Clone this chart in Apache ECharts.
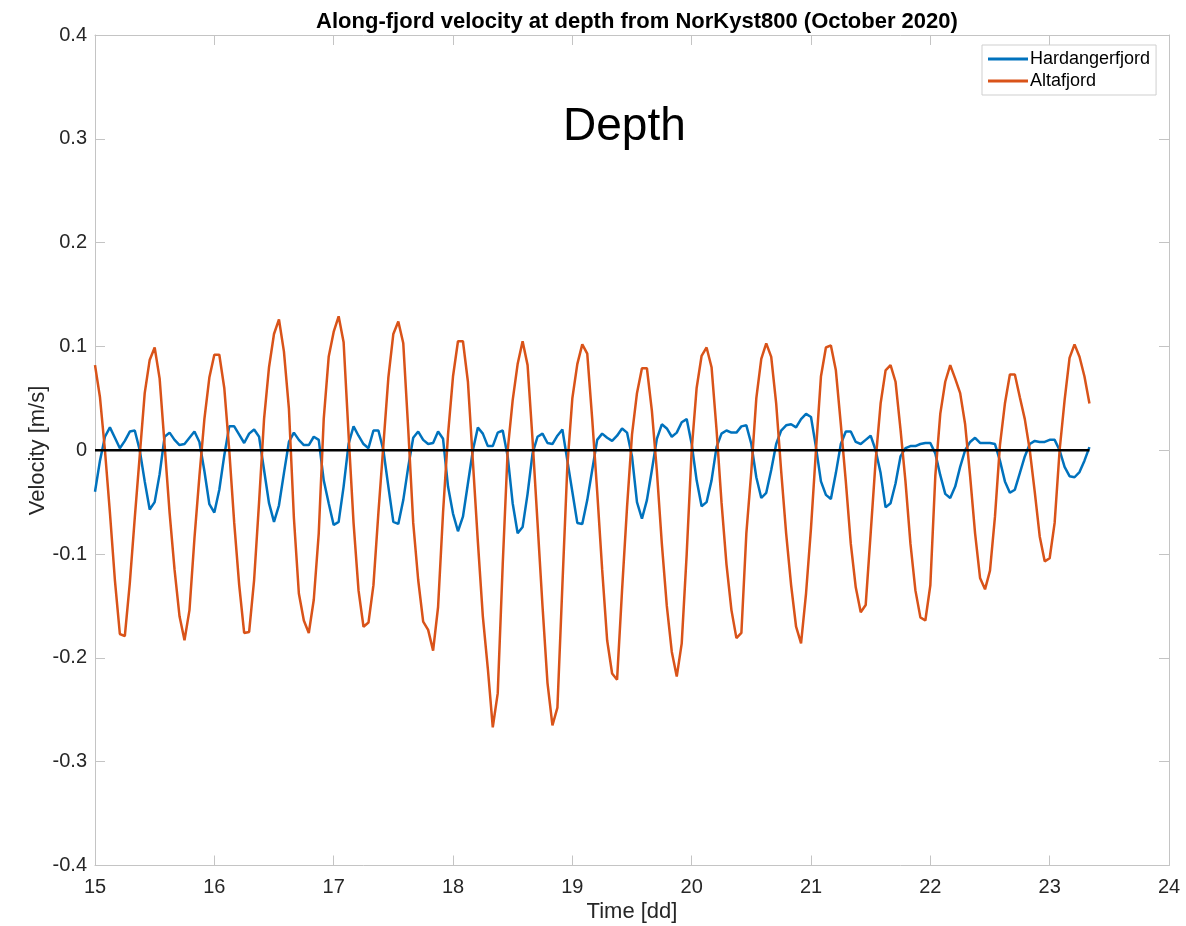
<!DOCTYPE html>
<html>
<head>
<meta charset="utf-8">
<title>Along-fjord velocity at depth</title>
<script src="https://cdn.jsdelivr.net/npm/echarts@6/dist/echarts.min.js"></script>
<style>
  html, body { margin: 0; padding: 0; background: #ffffff; overflow: hidden; }
  #chart { width: 1186px; height: 926px; }
</style>
</head>
<body>
<div id="chart"></div>
<script>
// Hourly model output, 15 October 2020 00:00 onwards (time in days of month)
const startDay = 15;
const stepHours = 1;

// Along-fjord velocity [m/s], Hardangerfjord
const hardangerfjord = [
  -0.040, -0.010, 0.013, 0.022, 0.012, 0.002, 0.009, 0.018, 0.019, 0.000,
  -0.030, -0.057, -0.050, -0.023, 0.013, 0.017, 0.010, 0.005, 0.006, 0.012,
  0.018, 0.008, -0.020, -0.052, -0.060, -0.038, -0.005, 0.023, 0.023, 0.015,
  0.007, 0.016, 0.020, 0.013, -0.019, -0.051, -0.069, -0.053, -0.022, 0.008,
  0.017, 0.010, 0.005, 0.005, 0.013, 0.010, -0.029, -0.051, -0.072, -0.069,
  -0.035, 0.006, 0.023, 0.014, 0.006, 0.002, 0.019, 0.019, 0.000, -0.035,
  -0.069, -0.071, -0.048, -0.016, 0.012, 0.018, 0.010, 0.006, 0.007, 0.018,
  0.011, -0.035, -0.061, -0.078, -0.064, -0.032, 0.000, 0.022, 0.016, 0.004,
  0.004, 0.017, 0.019, -0.006, -0.051, -0.080, -0.074, -0.042, -0.003, 0.013,
  0.016, 0.007, 0.006, 0.014, 0.020, -0.010, -0.040, -0.070, -0.071, -0.048,
  -0.019, 0.010, 0.016, 0.012, 0.009, 0.014, 0.021, 0.017, -0.006, -0.050,
  -0.066, -0.048, -0.019, 0.011, 0.025, 0.021, 0.013, 0.017, 0.027, 0.030,
  0.006, -0.029, -0.054, -0.050, -0.029, 0.003, 0.016, 0.019, 0.017, 0.017,
  0.023, 0.024, 0.006, -0.026, -0.046, -0.041, -0.019, 0.006, 0.019, 0.024,
  0.025, 0.022, 0.030, 0.035, 0.032, 0.003, -0.030, -0.043, -0.047, -0.022,
  0.006, 0.018, 0.018, 0.008, 0.006, 0.010, 0.014, 0.000, -0.022, -0.055,
  -0.051, -0.032, -0.006, 0.002, 0.004, 0.004, 0.006, 0.007, 0.007, -0.003,
  -0.024, -0.042, -0.046, -0.035, -0.016, 0.000, 0.008, 0.012, 0.007, 0.007,
  0.007, 0.006, -0.010, -0.030, -0.041, -0.038, -0.022, -0.006, 0.006, 0.009,
  0.008, 0.008, 0.010, 0.010, 0.000, -0.016, -0.025, -0.026, -0.021, -0.010,
  0.003
];

// Along-fjord velocity [m/s], Altafjord
const altafjord = [
  0.082, 0.051, 0.000, -0.060, -0.125, -0.177, -0.179, -0.128, -0.065, -0.005,
  0.055, 0.087, 0.099, 0.069, 0.005, -0.060, -0.115, -0.160, -0.183, -0.154,
  -0.085, -0.025, 0.030, 0.070, 0.092, 0.092, 0.060, 0.000, -0.070, -0.130,
  -0.176, -0.175, -0.125, -0.050, 0.030, 0.080, 0.112, 0.126, 0.095, 0.040,
  -0.065, -0.138, -0.164, -0.176, -0.144, -0.080, 0.030, 0.090, 0.114, 0.129,
  0.104, 0.015, -0.070, -0.135, -0.170, -0.166, -0.130, -0.060, 0.005, 0.070,
  0.112, 0.124, 0.103, 0.020, -0.070, -0.125, -0.165, -0.173, -0.193, -0.151,
  -0.060, 0.015, 0.071, 0.105, 0.105, 0.066, -0.011, -0.088, -0.160, -0.210,
  -0.267, -0.234, -0.110, 0.000, 0.048, 0.083, 0.105, 0.082, 0.010, -0.070,
  -0.150, -0.224, -0.265, -0.248, -0.130, -0.015, 0.050, 0.083, 0.102, 0.093,
  0.030, -0.040, -0.115, -0.183, -0.215, -0.221, -0.135, -0.055, 0.015, 0.055,
  0.079, 0.079, 0.038, -0.020, -0.090, -0.150, -0.194, -0.218, -0.186, -0.100,
  0.000, 0.060, 0.091, 0.099, 0.080, 0.020, -0.050, -0.110, -0.154, -0.181,
  -0.176, -0.080, -0.020, 0.050, 0.088, 0.103, 0.090, 0.045, -0.020, -0.080,
  -0.130, -0.170, -0.186, -0.138, -0.075, 0.000, 0.071, 0.099, 0.101, 0.077,
  0.025, -0.030, -0.090, -0.132, -0.156, -0.149, -0.080, -0.010, 0.045, 0.077,
  0.082, 0.066, 0.020, -0.030, -0.090, -0.135, -0.161, -0.164, -0.130, -0.025,
  0.035, 0.066, 0.082, 0.069, 0.055, 0.025, -0.025, -0.080, -0.123, -0.134,
  -0.116, -0.064, 0.005, 0.045, 0.073, 0.073, 0.051, 0.030, 0.000, -0.040,
  -0.083, -0.107, -0.104, -0.070, 0.000, 0.048, 0.089, 0.102, 0.090, 0.071,
  0.045
];

// Axis ticks
const timeTicks = [15, 16, 17, 18, 19, 20, 21, 22, 23, 24];
const velocityTicks = [-0.4, -0.3, -0.2, -0.1, 0, 0.1, 0.2, 0.3, 0.4];

const seriesNames = ['Hardangerfjord', 'Altafjord'];
const titleText = 'Along-fjord velocity at depth from NorKyst800 (October 2020)';
const xAxisTitle = 'Time [dd]';
const yAxisTitle = 'Velocity [m/s]';
const annotationText = 'Depth';

const times = hardangerfjord.map((_, i) => startDay + (i * stepHours) / 24);
const toPairs = (vals) => vals.map((v, i) => [times[i], v]);
const zeroLine = [[times[0], 0], [times[times.length - 1], 0]];

const FONT = '"Liberation Sans", Arial, Helvetica, sans-serif';
const AXIS_GREY = '#c4c4c4';
const TEXT = '#262626';

const tMin = timeTicks[0], tMax = timeTicks[timeTicks.length - 1];
const vMin = velocityTicks[0], vMax = velocityTicks[velocityTicks.length - 1];

// Box-style axis: light frame line with short inward ticks
function frameAxis(extra) {
  return Object.assign({
    type: 'value',
    axisLine: { show: true, onZero: false, lineStyle: { color: AXIS_GREY, width: 1 } },
    axisTick: { show: true, inside: true, length: 10, lineStyle: { color: AXIS_GREY, width: 1 } },
    splitLine: { show: false }
  }, extra);
}

const chart = echarts.init(document.getElementById('chart'), null, { renderer: 'canvas' });

chart.setOption({
  animation: false,
  backgroundColor: '#ffffff',
  textStyle: { fontFamily: FONT },
  title: {
    text: titleText,
    left: 632,
    top: 6,
    textAlign: 'center',
    textStyle: { fontFamily: FONT, fontSize: 22, fontWeight: 'bold', color: '#000000' }
  },
  grid: { left: 95, width: 1074, top: 35, height: 830.5, containLabel: false },
  legend: {
    data: seriesNames,
    orient: 'vertical',
    left: 982,
    top: 45,
    padding: [5, 6, 5, 6],
    itemGap: 4,
    itemWidth: 40,
    itemHeight: 3,
    icon: 'rect',
    backgroundColor: '#ffffff',
    borderColor: '#cfcfcf',
    borderWidth: 1,
    borderRadius: 0,
    textStyle: { fontFamily: FONT, fontSize: 18, color: '#000000', padding: [0, 0, 0, -3] }
  },
  xAxis: [
    frameAxis({
      position: 'bottom', min: tMin, max: tMax, interval: 1,
      axisLabel: { color: TEXT, fontSize: 20, margin: 12, fontFamily: FONT }
    }),
    frameAxis({ position: 'top', min: tMin, max: tMax, interval: 1, axisLabel: { show: false } })
  ],
  yAxis: [
    frameAxis({
      position: 'left', min: vMin, max: vMax, interval: 0.1,
      axisLabel: {
        color: TEXT, fontSize: 20, margin: 8, fontFamily: FONT,
        formatter: (v) => String(Math.round(v * 10) / 10)
      }
    }),
    frameAxis({ position: 'right', min: vMin, max: vMax, interval: 0.1, axisLabel: { show: false } })
  ],
  graphic: [
    {
      type: 'text',
      left: 563,
      top: 104,
      style: { text: annotationText, fontFamily: FONT, fontSize: 46, fill: '#000000' }
    },
    {
      // axis titles
      type: 'text',
      x: 632, y: 912,
      style: {
        text: xAxisTitle, fontFamily: FONT, fontSize: 22, fill: TEXT,
        align: 'center', verticalAlign: 'middle'
      }
    },
    {
      type: 'text',
      x: 37.5, y: 450.5,
      rotation: Math.PI / 2,
      style: {
        text: yAxisTitle, fontFamily: FONT, fontSize: 22, fill: TEXT,
        align: 'center', verticalAlign: 'middle'
      }
    }
  ],
  series: [
    {
      name: seriesNames[0], type: 'line', data: toPairs(hardangerfjord),
      showSymbol: false, symbol: 'none', color: '#0072BD',
      lineStyle: { width: 2.5, color: '#0072BD' }, z: 2
    },
    {
      name: seriesNames[1], type: 'line', data: toPairs(altafjord),
      showSymbol: false, symbol: 'none', color: '#D95319',
      lineStyle: { width: 2.5, color: '#D95319' }, z: 3
    },
    {
      name: 'zero', type: 'line', data: zeroLine,
      showSymbol: false, symbol: 'none', color: '#000000',
      lineStyle: { width: 2.5, color: '#000000' }, z: 4
    }
  ]
});
</script>
</body>
</html>
